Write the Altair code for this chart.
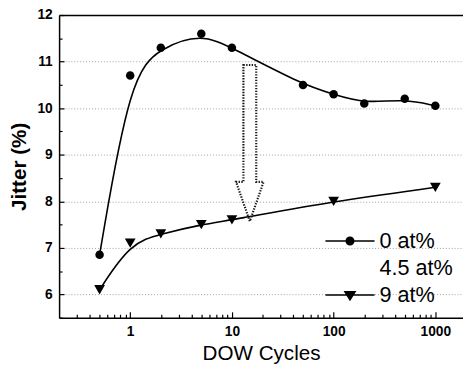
import altair as alt
import pandas as pd

# ---- data ----
series_names = ["0 at%", "4.5 at%", "9 at%"]
cycles_0 = [0.5, 1, 2, 5, 10, 50, 100, 200, 500, 1000]
jitter_0 = [6.85, 10.7, 11.3, 11.6, 11.3, 10.5, 10.3, 10.1, 10.2, 10.05]
cycles_9 = [0.5, 1, 2, 5, 10, 100, 1000]
jitter_9 = [6.1, 7.1, 7.3, 7.5, 7.6, 8.0, 8.3]

x_domain = [0.2, 1870]
y_domain = [5.5, 12]
x_label_values = [1, 10, 100, 1000]
y_label_values = [6, 7, 8, 9, 10, 11, 12]
x_tick_values = [0.3, 0.4, 0.5, 0.6, 0.7, 0.8, 0.9,
                 1, 2, 3, 4, 5, 6, 7, 8, 9,
                 10, 20, 30, 40, 50, 60, 70, 80, 90,
                 100, 200, 300, 400, 500, 600, 700, 800, 900,
                 1000]
y_tick_values = [5.5, 6, 6.5, 7, 7.5, 8, 8.5, 9, 9.5, 10, 10.5, 11, 11.5, 12]

arrow_cycles = [15]
arrow_jitter = [9.25]

rows = []
for c, j in zip(cycles_0, jitter_0):
    rows.append({"series": series_names[0], "cycles": c, "jitter": j})
for c, j in zip(cycles_9, jitter_9):
    rows.append({"series": series_names[2], "cycles": c, "jitter": j})
df = pd.DataFrame(rows)
arrow_df = pd.DataFrame({"cycles": arrow_cycles, "jitter": arrow_jitter})

W, H = 411, 308
FONT = "Liberation Sans"

xs = alt.Scale(type="log", domain=x_domain, nice=False)
ys = alt.Scale(domain=y_domain, nice=False, zero=False)
cs = alt.Scale(domain=series_names, range=["black", "#d9d9d9", "black"])

# legend symbols: thin filled bar (line) + marker
bar = "M-3.57,-0.11H3.57V0.11H-3.57Z"
circle_path = (bar + "M0.66,0A0.66,0.66 0 1,1 -0.66,0"
               "A0.66,0.66 0 1,1 0.66,0Z")
empty_path = "M0,0"
tri_path = bar + "M-0.93,-0.6L0.93,-0.6L0,0.9Z"
arrow_path = "M-0.082,-1H0.082V0.497H0.176L0,1L-0.176,0.497H-0.082Z"

lines = alt.Chart(df).mark_line(interpolate="basis", strokeWidth=1.6).encode(
    x=alt.X("cycles:Q", scale=xs, axis=alt.Axis(
        orient="bottom", values=x_label_values, format="d", title="DOW Cycles",
        ticks=False, tickSize=0, grid=False,
        domainColor="black", domainWidth=1.5,
        labelFont=FONT, labelFontSize=14, labelFontWeight="bold",
        labelColor="black", labelPadding=7, labelFlush=False, labelOverlap=False,
        titleFont=FONT, titleFontSize=21, titleFontWeight="normal",
        titleColor="black", titleY=43, titleBaseline="alphabetic")),
    y=alt.Y("jitter:Q", scale=ys, axis=alt.Axis(
        orient="left", values=y_label_values, title="Jitter (%)",
        ticks=False, tickSize=0, grid=True,
        gridColor={"condition": {"test": "datum.value === 12", "value": "black"}, "value": "#8a8a8a"},
        gridDash={"condition": {"test": "datum.value === 12", "value": []}, "value": [1, 2]},
        gridWidth={"condition": {"test": "datum.value === 12", "value": 1.5}, "value": 0.8},
        domainColor="black", domainWidth=1.5,
        labelFont=FONT, labelFontSize=14, labelFontWeight="bold",
        labelColor="black", labelPadding=7, labelOverlap=False,
        titleFont=FONT, titleFontSize=21, titleFontWeight="bold",
        titleColor="black", titleX=-40, titleBaseline="middle")),
    color=alt.Color("series:N", scale=cs, legend=None),
)

points = alt.Chart(df).mark_point(filled=True, opacity=1).encode(
    x=alt.X("cycles:Q", scale=xs, axis=alt.Axis(
        orient="top", offset=-H, values=x_tick_values, labels=False,
        domain=False, grid=False, ticks=True, tickColor="black", tickWidth=1.2,
        tickSize={"condition": {"test": "datum.value == 1 || datum.value == 10 || datum.value == 100 || datum.value == 1000",
                                "value": 6}, "value": 3.5},
        title=None)),
    y=alt.Y("jitter:Q", scale=ys, axis=alt.Axis(
        orient="right", offset=-W, values=y_tick_values, labels=False,
        domain=False, grid=False, ticks=True, tickColor="black", tickWidth=1.2,
        tickSize={"condition": {"test": "datum.value % 1 == 0", "value": 5}, "value": 3},
        title=None)),
    shape=alt.Shape("series:N", scale=alt.Scale(domain=series_names,
                    range=["circle", "square", "triangle-down"]), legend=None),
    size=alt.Size("series:N", scale=alt.Scale(domain=series_names,
                  range=[75, 120]), legend=None),
    color=alt.Color("series:N", scale=cs, legend=None),
)

legend_layer = alt.Chart(df).mark_point(
    opacity=0, fill="black", stroke="black", strokeWidth=1.5, filled=True).encode(
    x=alt.X("cycles:Q", scale=xs, axis=None),
    y=alt.Y("jitter:Q", scale=ys, axis=None),
    shape=alt.Shape("series:N", scale=alt.Scale(domain=series_names,
                    range=[circle_path, empty_path, tri_path]),
                    legend=alt.Legend(
                        title=None, orient="none", legendX=285, legendY=219,
                        symbolSize=196, symbolFillColor="black",
                        symbolStrokeColor="black", symbolStrokeWidth=0,
                        symbolOpacity=1, labelFont=FONT, labelFontSize=22,
                        labelColor="black", labelOffset=19, rowPadding=5.5,
                        padding=0, labelLimit=0)),
)

arrow = alt.Chart(arrow_df).mark_point(
    shape=arrow_path, size=25281, filled=False, stroke="#1a1a1a",
    strokeWidth=2.2, strokeDash=[1.4, 1.4], opacity=1).encode(
    x=alt.X("cycles:Q", scale=xs, axis=None),
    y=alt.Y("jitter:Q", scale=ys, axis=None),
)

chart = alt.layer(lines, arrow, points, legend_layer).resolve_scale(
    shape="independent", size="independent"
).resolve_axis(
    x="independent", y="independent"
).properties(
    width=W, height=H,
    autosize=alt.AutoSizeParams(type="none"),
    padding={"left": 52, "top": 4, "right": 0, "bottom": 48},
    background="white",
).configure_view(stroke=None)

chart.save("out.html", embed_options={"renderer": "svg", "actions": False})
